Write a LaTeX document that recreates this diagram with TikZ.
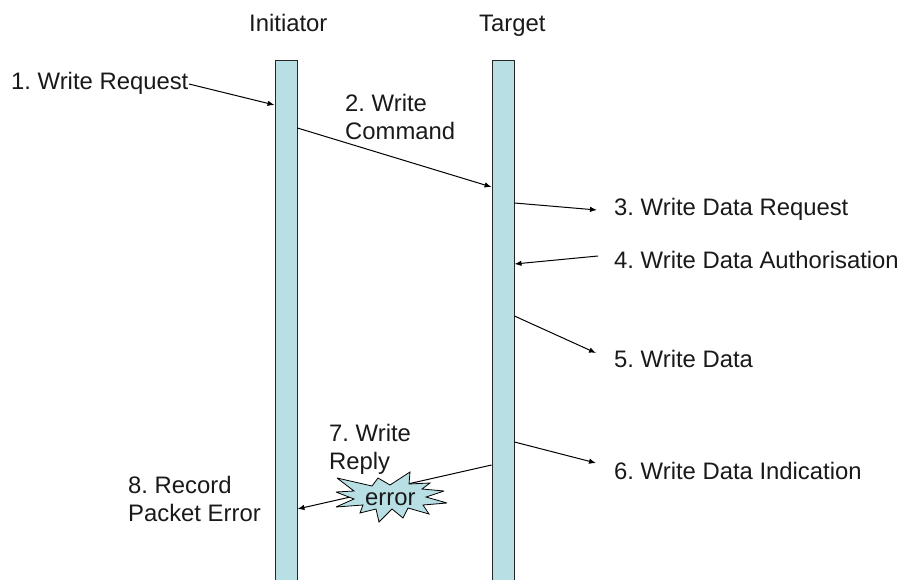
\documentclass[tikz,border=0pt]{standalone}
\usepackage{fontspec}
\setmainfont{Liberation Sans}
\usetikzlibrary{arrows.meta}
\tikzset{
  lane/.style={draw=black!85,line width=0.9pt,fill=laneblue,minimum width=22pt,minimum height=530pt,inner sep=0pt,anchor=north},
  lbl/.style={anchor=base west,inner sep=0pt,align=left,font=\fontsize{23.85}{28.5}\selectfont\frenchspacing,text=black!90},
  msg/.style={draw=black,line width=1pt,-{Latex[length=7pt,width=5.5pt]}}
}
\definecolor{laneblue}{HTML}{B8DFE3}
\begin{document}
\begin{tikzpicture}[x=1pt,y=-1pt]
\useasboundingbox (0,0) rectangle (899,580);
\node[lane] (barI) at (286,60) {};
\node[lane] (barT) at (503,60) {};
\clip (0,0) rectangle (899,580);
\node[lbl] (hI) at (249,32) {Initiator};
\node[lbl] (hT) at (479,32) {Target};
\node[lbl] (l1) at (11,90) {1. Write Request};
\node[lbl,anchor=north west] (l2) at (345,94) {2. Write\\Command};
\node[lbl] (l3) at (614,215) {3. Write Data Request};
\node[lbl] (l4) at (614,268) {4. Write Data Authorisation};
\node[lbl] (l5) at (614,367) {5. Write Data};
\node[lbl] (l6) at (614,479) {6. Write Data Indication};
\node[lbl,anchor=north west] (l7) at (329,424) {7. Write\\Reply};
\node[lbl,anchor=north west] (l8) at (128,476) {8. Record\\Packet Error};
\coordinate (a1s) at (189,84);
\coordinate (a1e) at (barI.west |- 0,105);
\coordinate (a2s) at (barI.east |- 0,128);
\coordinate (a2e) at (barT.west |- 0,187);
\coordinate (a3s) at (barT.east |- 0,203);
\coordinate (a3e) at (597,210);
\coordinate (a4s) at (598,256);
\coordinate (a4e) at (barT.east |- 0,264);
\coordinate (a5s) at (barT.east |- 0,316);
\coordinate (a5e) at (596,353);
\coordinate (a6s) at (barT.east |- 0,442);
\coordinate (a6e) at (596,463);
\coordinate (a7s) at (barT.west |- 0,465);
\coordinate (a7e) at (barI.east |- 0,509);
\draw[msg] (a1s) -- (a1e);
\draw[msg] (a2s) -- (a2e);
\draw[msg] (a3s) -- (a3e);
\draw[msg] (a4s) -- (a4e);
\draw[msg] (a5s) -- (a5e);
\draw[msg] (a6s) -- (a6e);
\draw[msg] (a7s) -- (a7e);
\draw[draw=black,line width=0.8pt,fill=laneblue,line join=miter,miter limit=4]
 (337,478) -- (372,486) -- (378,478) -- (390,485) -- (410,472) -- (409,484) -- (430,483) -- (422,489) -- (444,491) -- (426,497) -- (447,503) -- (423,505) -- (429,514) -- (408,508) -- (403,518) -- (392,509) -- (379,522) -- (376,509) -- (360,513) -- (363,505) -- (336,507) -- (354,499) -- (336,492) -- (354,491) -- cycle;
\node[lbl] (err) at (365,505) {error};
\end{tikzpicture}
\end{document}
